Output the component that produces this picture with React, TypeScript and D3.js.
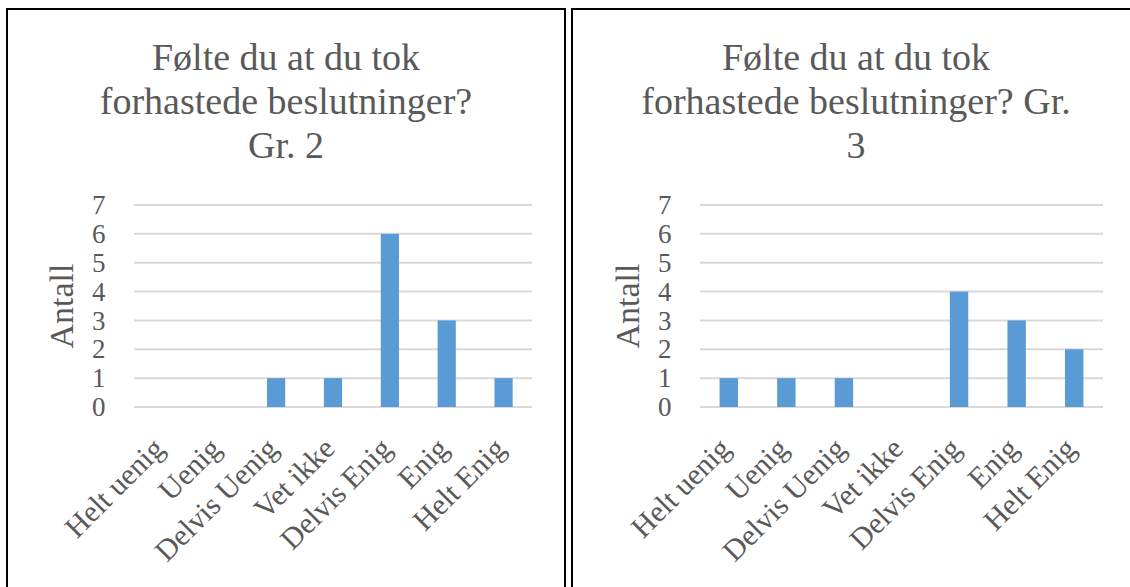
import React, { useRef, useEffect } from 'react';
import * as d3 from 'd3';

const categories = ['Helt uenig', 'Uenig', 'Delvis Uenig', 'Vet ikke', 'Delvis Enig', 'Enig', 'Helt Enig'];
const valuesGr2 = [0, 0, 1, 1, 6, 3, 1];
const valuesGr3 = [1, 1, 1, 0, 4, 3, 2];
const titleGr2 = ['Følte du at du tok', 'forhastede beslutninger?', 'Gr. 2'];
const titleGr3 = ['Følte du at du tok', 'forhastede beslutninger? Gr.', '3'];
const yTicks = [0, 1, 2, 3, 4, 5, 6, 7];

const panels = [
  { values: valuesGr2, title: titleGr2, box: [7, 9, 565, 620], plot: [134, 532] },
  { values: valuesGr3, title: titleGr3, box: [572, 9, 1140, 620], plot: [700, 1103] },
];

const FONT = '"Liberation Serif", "Times New Roman", serif';
const TEXT = '#595959';

const App = () => {
  const ref = useRef<SVGSVGElement>(null);

  useEffect(() => {
    if (!ref.current) return;
    const svg = d3.select(ref.current);
    svg.selectAll('*').remove();

    const y = d3.scaleLinear().domain([0, 7]).range([407, 205]);

    panels.forEach(p => {
      const [bx0, by0, bx1, by1] = p.box;
      const g = svg.append('g');

      // panel frame
      g.append('rect')
        .attr('x', bx0).attr('y', by0)
        .attr('width', bx1 - bx0).attr('height', by1 - by0)
        .attr('fill', 'none').attr('stroke', '#000').attr('stroke-width', 2);

      // title
      const cx = (bx0 + bx1) / 2;
      g.append('text')
        .attr('font-family', FONT).attr('font-size', 38).attr('fill', TEXT)
        .attr('text-anchor', 'middle')
        .selectAll('tspan')
        .data(p.title)
        .enter()
        .append('tspan')
        .attr('x', cx)
        .attr('y', (d, i) => 70 + i * 44)
        .text(d => d);

      const x = d3.scaleBand().domain(categories).range(p.plot).padding(0);
      const bw = x.bandwidth() * 0.32;

      // gridlines
      g.selectAll('.grid')
        .data(yTicks)
        .enter()
        .append('line')
        .attr('x1', p.plot[0]).attr('x2', p.plot[1])
        .attr('y1', d => y(d)).attr('y2', d => y(d))
        .attr('stroke', '#d9d9d9').attr('stroke-width', 2);

      // y tick labels
      g.selectAll('.ytick')
        .data(yTicks)
        .enter()
        .append('text')
        .attr('x', p.plot[0] - 28.5)
        .attr('y', d => y(d))
        .attr('dy', '0.34em')
        .attr('text-anchor', 'end')
        .attr('font-family', FONT).attr('font-size', 27).attr('fill', TEXT)
        .text(d => d);

      // y axis title
      g.append('text')
        .attr('transform', `translate(${p.plot[0] - 61},${(y(0) + y(7)) / 2}) rotate(-90)`)
        .attr('text-anchor', 'middle')
        .attr('font-family', FONT).attr('font-size', 34).attr('fill', TEXT)
        .text('Antall');

      // bars
      g.selectAll('.bar')
        .data(p.values)
        .enter()
        .append('rect')
        .attr('x', (d, i) => (x(categories[i]) as number) + (x.bandwidth() - bw) / 2)
        .attr('y', d => y(d))
        .attr('width', bw)
        .attr('height', d => y(0) - y(d))
        .attr('fill', '#5b9bd5');

      // category labels
      g.selectAll('.xlab')
        .data(categories)
        .enter()
        .append('text')
        .attr('transform', d => `translate(${(x(d) as number) + x.bandwidth() / 2 - 4},${443}) rotate(-45)`)
        .attr('dy', '0.35em')
        .attr('text-anchor', 'end')
        .attr('font-family', FONT).attr('font-size', 30).attr('fill', TEXT)
        .text(d => d);
    });
  }, []);

  return (
    <svg ref={ref} width={1130} height={587}
      style={{ position: 'absolute', left: 0, top: 0, background: '#fff' }} />
  );
};

export default App;
